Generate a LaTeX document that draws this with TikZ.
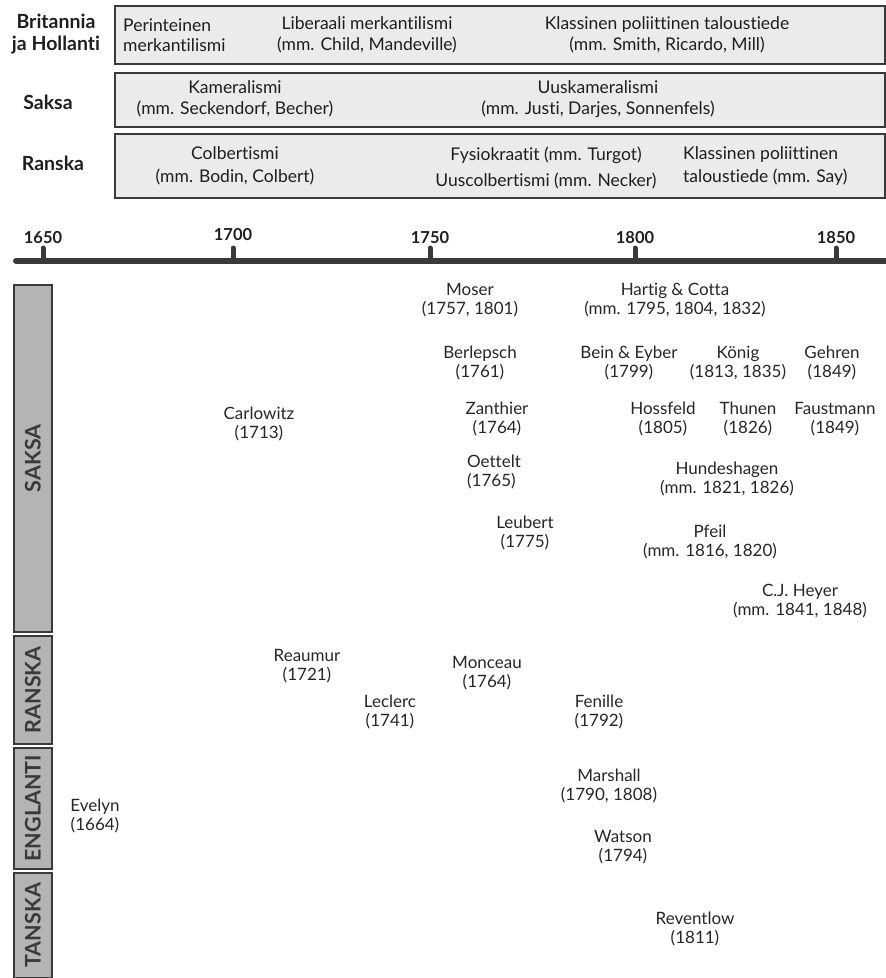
\documentclass[tikz,border=0pt]{standalone}
\usepackage{fontspec}
\setmainfont[Ligatures={NoCommon,NoRare,NoContextual},Contextuals={NoAlternate}]{Lato}
\definecolor{hdrfill}{HTML}{EBEBEB}
\definecolor{barfill}{HTML}{B4B4B4}
\definecolor{edge}{HTML}{3A3A3A}
\definecolor{nametext}{HTML}{262626}
\definecolor{labtext}{HTML}{1E1E1E}
\begin{document}
\begin{tikzpicture}[x=1pt,y=-1pt,
  hdrbox/.style={draw=edge, line width=1.8pt, fill=hdrfill, anchor=north west, inner sep=0, minimum width=770pt},
  barbox/.style={draw=edge, line width=1.5pt, fill=barfill, anchor=north west, inner sep=0, minimum width=38pt},
  bartext/.style={rotate=90, font=\bfseries\fontsize{21.5}{24}\selectfont, text=edge, inner sep=0},
  rowlab/.style={font=\bfseries\fontsize{19.5}{22}\selectfont, text=labtext, align=center, inner sep=0},
  hdrtext/.style={font=\fontsize{17.5}{20.5}\selectfont, text=labtext, align=center, inner sep=0},
  yearlab/.style={font=\bfseries\fontsize{16.5}{18}\selectfont, text=labtext, inner sep=0},
  person/.style={font=\fontsize{17}{19.5}\selectfont, text=nametext, align=center, inner sep=0},
  tick/.style={line width=5pt, draw=edge, line cap=round}
]
\useasboundingbox (0,0) rectangle (886,978);

% header boxes
\node[hdrbox, minimum height=58pt] (brbox) at (114,5) {};
\node[hdrbox, minimum height=54pt] (sabox) at (114,72) {};
\node[hdrbox, minimum height=64pt] (rabox) at (114,133) {};

\node[rowlab] (brlab) at (56,34) {Britannia\\ja Hollanti};
\node[rowlab] (salab) at (48,102) {Saksa};
\node[rowlab] (ralab) at (53,163) {Ranska};

\node[hdrtext, align=left, anchor=west] (perint) at (123,35) {Perinteinen\\merkantilismi};
\node[hdrtext] (libmerk) at (367,35) {Liberaali merkantilismi\\(mm. Child, Mandeville)};
\node[hdrtext] (klass1) at (667,35) {Klassinen poliittinen taloustiede\\(mm. Smith, Ricardo, Mill)};

\node[hdrtext] (kamer) at (235,99) {Kameralismi\\(mm. Seckendorf, Becher)};
\node[hdrtext] (uuskam) at (598,99) {Uuskameralismi\\(mm. Justi, Darjes, Sonnenfels)};

\node[hdrtext, font=\fontsize{17.5}{23}\selectfont] (colb) at (235,166) {Colbertismi\\(mm. Bodin, Colbert)};
\node[hdrtext, font=\fontsize{17.5}{26}\selectfont] (fysio) at (546,168) {Fysiokraatit (mm. Turgot)\\Uuscolbertismi (mm. Necker)};
\node[hdrtext, font=\fontsize{17.5}{23}\selectfont, align=left, anchor=west] (klass2) at (683,166) {Klassinen poliittinen\\taloustiede (mm. Say)};

% timeline
\coordinate (tlstart) at (16,261);
\coordinate (tlend) at (886,261);
\draw[line width=6pt, draw=edge, line cap=round] (tlstart) -- (tlend);
\foreach \yr/\xx/\yy in {1650/43/238, 1700/233/235, 1750/430/238, 1800/635/238, 1850/836/238}{
  \coordinate (t\yr) at (\xx,261);
  \coordinate (tt\yr) at (\xx,248);
  \draw[tick] (t\yr) -- (tt\yr);
  \node[yearlab] (y\yr) at (\xx,\yy) {\yr};
}

% vertical country bars
\node[barbox, minimum height=347pt] (bsaksa) at (13,284) {};
\node[bartext] (lsaksa) at (bsaksa.center) {SAKSA};
\node[barbox, minimum height=108pt] (bransk) at (13,635) {};
\node[bartext] (lransk) at (bransk.center) {RANSKA};
\node[barbox, minimum height=121pt] (bengl) at (13,747) {};
\node[bartext] (lengl) at (bengl.center) {ENGLANTI};
\node[barbox, minimum height=105pt] (btansk) at (13,872) {};
\node[bartext] (ltansk) at (btansk.center) {TANSKA};

% persons
\node[person] (moser) at (470,300) {Moser\\(1757, 1801)};
\node[person] (hartig) at (675,300) {Hartig \& Cotta\\(mm. 1795, 1804, 1832)};
\node[person] (berlepsch) at (480,363) {Berlepsch\\(1761)};
\node[person] (bein) at (629,363) {Bein \& Eyber\\(1799)};
\node[person] (konig) at (738,363) {König\\(1813, 1835)};
\node[person] (gehren) at (832,363) {Gehren\\(1849)};
\node[person] (carlowitz) at (259,424) {Carlowitz\\(1713)};
\node[person] (zanthier) at (497,419) {Zanthier\\(1764)};
\node[person] (hossfeld) at (663,419) {Hossfeld\\(1805)};
\node[person] (thunen) at (748,419) {Thunen\\(1826)};
\node[person] (faustmann) at (835,419) {Faustmann\\(1849)};
\node[person, align=left, anchor=west] (oettelt) at (467,472) {Oettelt\\(1765)};
\node[person] (hundeshagen) at (727,479) {Hundeshagen\\(mm. 1821, 1826)};
\node[person] (leubert) at (525,533) {Leubert\\(1775)};
\node[person] (pfeil) at (710,542) {Pfeil\\(mm. 1816, 1820)};
\node[person] (heyer) at (800,601) {C.J. Heyer\\(mm. 1841, 1848)};
\node[person] (reaumur) at (307,666) {Reaumur\\(1721)};
\node[person] (monceau) at (487,673) {Monceau\\(1764)};
\node[person] (leclerc) at (390,712) {Leclerc\\(1741)};
\node[person] (fenille) at (599,712) {Fenille\\(1792)};
\node[person] (marshall) at (609,786) {Marshall\\(1790, 1808)};
\node[person] (evelyn) at (95,816) {Evelyn\\(1664)};
\node[person] (watson) at (623,847) {Watson\\(1794)};
\node[person] (reventlow) at (695,929) {Reventlow\\(1811)};
\end{tikzpicture}
\end{document}
